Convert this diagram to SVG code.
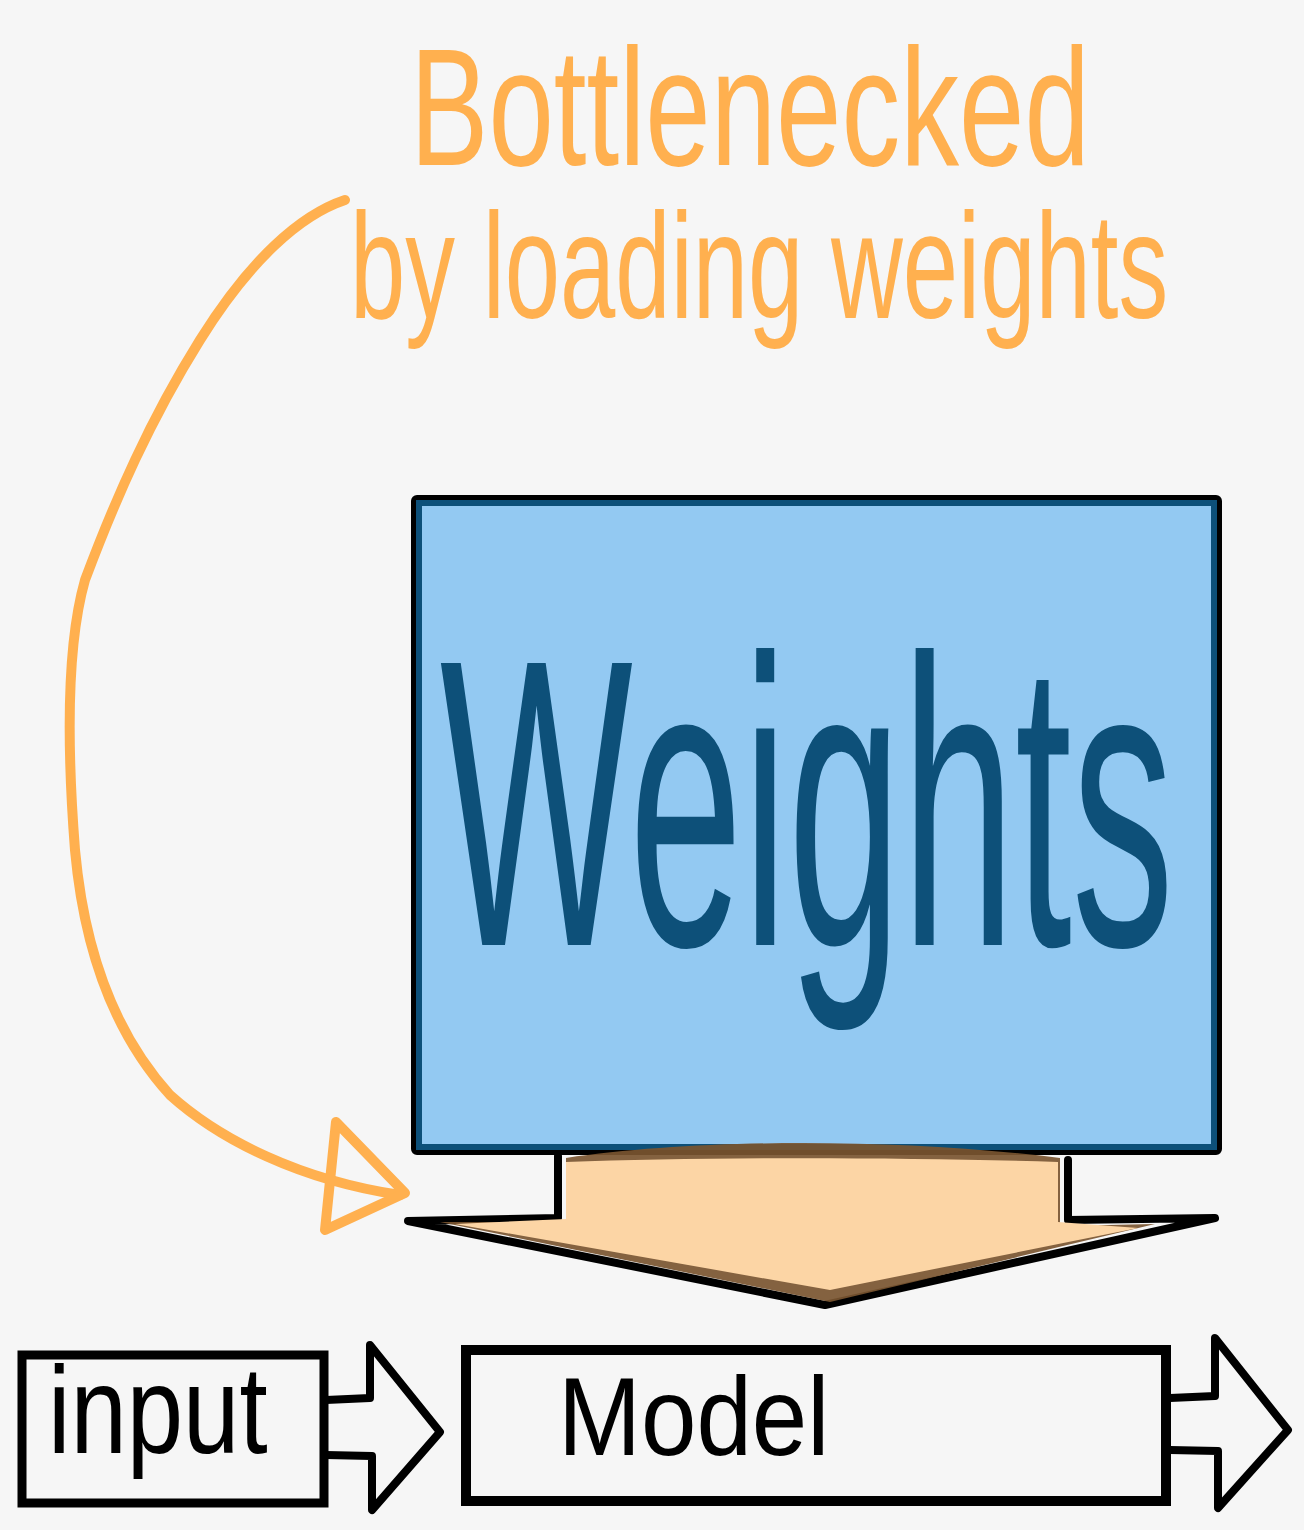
<svg xmlns="http://www.w3.org/2000/svg" width="1304" height="1530" viewBox="0 0 1304 1530">
<style>
.hand{font-family:"Liberation Sans","DejaVu Sans",sans-serif;}
.orange{fill:#ffb04f;}
.blk{fill:none;stroke:#000;stroke-linejoin:round;stroke-linecap:round;}
.arc{fill:none;stroke:#ffb04f;stroke-width:10;stroke-linecap:round;stroke-linejoin:round;}
</style>
<rect width="1304" height="1530" fill="#f6f6f6"/>

<g id="title">
<text class="hand orange" transform="translate(410,165) scale(0.70,1)" x="0" y="0" font-size="168">Bottlenecked</text>
<text class="hand orange" transform="translate(350,318) scale(0.663,1)" x="0" y="0" font-size="150">by loading weights</text>
</g>

<g id="weights">
<rect x="414" y="498" width="805" height="654" fill="#93c9f2" stroke="#000" stroke-width="6" rx="3"/>
<rect x="419" y="503" width="795" height="644" fill="none" stroke="#0d5079" stroke-width="6"/>
<text class="hand" transform="translate(440,945) scale(0.498,1)" x="0" y="0" font-size="410" fill="#0d5079">Weights</text>
</g>

<g id="connectors">
<path class="arc" d="M345,200 C300,215 250,260 200,340 C150,420 115,500 85,580 C65,650 68,760 75,850 C85,960 120,1040 170,1095 C220,1140 300,1180 400,1195"/>
<path class="arc" d="M336,1122 L405,1193 L325,1230 Z"/>
<path class="blk" stroke-width="8" d="M326,1400 L370,1398 L370,1345 L440,1432 L372,1510 L372,1456 L326,1455"/>
<path class="blk" stroke-width="8" d="M1170,1398 L1215,1396 L1215,1338 L1288,1430 L1218,1508 L1218,1451 L1170,1450"/>
</g>

<g id="funnel">
<path class="blk" stroke-width="8" d="M558,1156 L558,1218 L408,1221 L825,1305 L1215,1218 L1068,1220 L1068,1160"/>
<path d="M440,1222 L566,1222 L566,1158 C700,1138 900,1138 1060,1158 L1060,1226 L1155,1224 L830,1302 Z" fill="#7a5530" fill-opacity="0.92"/>
<path d="M455,1224 L566,1219 L566,1162 C700,1157 900,1157 1058,1162 L1058,1222 L1138,1228 L830,1290 Z" fill="#fcd5a5"/>
</g>

<g id="input">
<rect x="22" y="1355" width="302" height="148" fill="none" stroke="#000" stroke-width="9"/>
<text class="hand" transform="translate(48,1453) scale(0.81,1)" x="0" y="0" font-size="125" fill="#000">input</text>
</g>

<g id="model">
<rect x="466" y="1350" width="700" height="151" fill="none" stroke="#000" stroke-width="10"/>
<text class="hand" transform="translate(558,1455) scale(0.89,1)" x="0" y="0" font-size="112" fill="#000">Model</text>
</g>
</svg>
